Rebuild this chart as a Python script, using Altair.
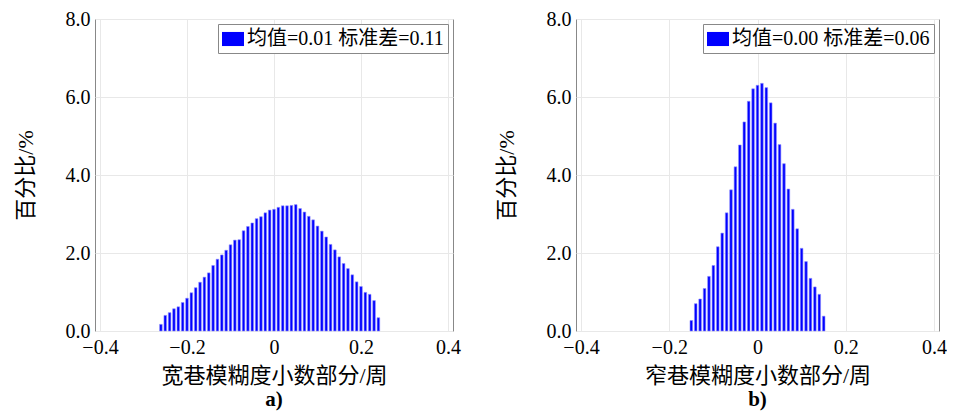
import altair as alt
import pandas as pd

# Panel a: wide-lane ambiguity fractional part (bin centers, percent)
wide_centers = [round(-0.26 + 0.01 * i, 2) for i in range(51)]
wide_pct = [0.17, 0.40, 0.47, 0.57, 0.62, 0.73, 0.84, 0.98, 1.11, 1.25,
            1.38, 1.49, 1.68, 1.84, 1.95, 2.07, 2.21, 2.33, 2.34, 2.57,
            2.68, 2.77, 2.88, 2.93, 3.03, 3.10, 3.12, 3.17, 3.21, 3.21,
            3.22, 3.24, 3.14, 3.05, 2.94, 2.85, 2.69, 2.56, 2.41, 2.22,
            2.08, 1.90, 1.73, 1.60, 1.44, 1.26, 1.14, 0.99, 0.94, 0.78, 0.34]

# Panel b: narrow-lane ambiguity fractional part
narrow_centers = [round(-0.15 + 0.01 * i, 2) for i in range(31)]
narrow_pct = [0.27, 0.70, 0.82, 1.09, 1.40, 1.68, 2.16, 2.51, 3.03, 3.62,
              4.21, 4.77, 5.36, 5.89, 6.21, 6.30, 6.35, 6.24, 5.85, 5.33,
              4.78, 4.29, 3.64, 3.12, 2.62, 2.12, 1.78, 1.35, 1.13, 0.94, 0.38]

legend_a = "均值=0.01 标准差=0.11"
legend_b = "均值=0.00 标准差=0.06"
xtitle_a = "宽巷模糊度小数部分/周"
xtitle_b = "窄巷模糊度小数部分/周"
ytitle = "百分比/%"
x_ticks = [-0.4, -0.2, 0, 0.2, 0.4]
y_ticks = [0, 2, 4, 6, 8]

FONT = "'Liberation Serif', 'Noto Sans CJK SC'"


def panel(centers, pct, label, xtitle, sub, width):
    df = pd.DataFrame({"x": centers, "y": pct, "legend": label})
    return alt.Chart(df).mark_bar(
        size=2.6, color="blue", stroke="#8c8cff", strokeWidth=0.6
    ).encode(
        x=alt.X("x:Q",
                scale=alt.Scale(domain=[-0.4, 0.4], nice=False, zero=False),
                axis=alt.Axis(values=x_ticks, title=xtitle,
                              labelExpr="datum.value == 0 ? '0' : format(datum.value, '.1f')",
                              labelFlush=False, labelPadding=6, titlePadding=8)),
        y=alt.Y("y:Q",
                scale=alt.Scale(domain=[0, 8], nice=False),
                axis=alt.Axis(values=y_ticks, format=".1f", title=ytitle,
                              labelPadding=5, titlePadding=28)),
        color=alt.Color("legend:N",
                        scale=alt.Scale(domain=[label], range=["blue"]),
                        legend=alt.Legend(title=None, orient="top-right", offset=5,
                                          padding=4, strokeColor="#888888",
                                          fillColor="white", labelFontSize=20,
                                          labelFont=FONT, labelOffset=3, labelLimit=0,
                                          symbolType="M-1,-0.64H1V0.64H-1Z",
                                          symbolSize=484, symbolStrokeWidth=0)),
    ).properties(
        width=width, height=312,
        title=alt.TitleParams(sub, orient="bottom", fontWeight="bold",
                              fontSize=21, font=FONT, offset=3),
    )


a = panel(wide_centers, wide_pct, legend_a, xtitle_a, "a)", 358)
b = panel(narrow_centers, narrow_pct, legend_b, xtitle_b, "b)", 363)

chart = alt.hconcat(a, b, spacing=33).resolve_scale(color="independent").properties(
    padding={"left": 5, "top": 0, "right": 0, "bottom": 0}
).configure_view(
    stroke="#888888", strokeWidth=1
).configure_axis(
    labelFont=FONT, titleFont=FONT, labelFontSize=20, titleFontSize=22,
    titleFontWeight="normal", labelColor="black", titleColor="black",
    grid=True, gridColor="#e8e8e8", domain=False, ticks=False,
)

chart.save("out.html", embed_options={"renderer": "svg", "actions": False})
